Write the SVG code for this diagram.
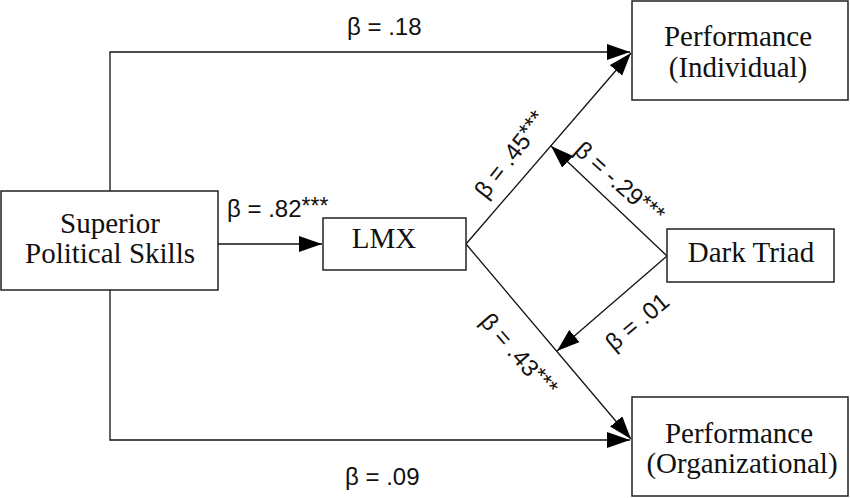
<svg xmlns="http://www.w3.org/2000/svg" width="850" height="498" viewBox="0 0 850 498">
<style>
.box{fill:#fff;stroke:#222;stroke-width:1.5}
.lbl{font-family:"Liberation Serif",serif;font-size:29px;fill:#111}
.beta{font-family:"Liberation Sans",Arial,sans-serif;font-size:24px;fill:#111}
.ast{font-size:23px}
.conn{fill:none;stroke:#111;stroke-width:1.3}
</style>
<defs>
<marker id="ah" markerUnits="userSpaceOnUse" markerWidth="26" markerHeight="18" refX="23" refY="8" orient="auto">
<path d="M0,0 L23,8 L0,16 Z" fill="#000"/>
</marker>
</defs>
<rect width="850" height="498" fill="#fff"/>
<g id="connectors">
<path class="conn" d="M110,191 V52 H630" marker-end="url(#ah)"/>
<path class="conn" d="M110,290 V440 H630" marker-end="url(#ah)"/>
<path class="conn" d="M218,244 H322" marker-end="url(#ah)"/>
<path class="conn" d="M466,244 L631,53" marker-end="url(#ah)"/>
<path class="conn" d="M466,244 L631,439" marker-end="url(#ah)"/>
<path class="conn" d="M667,256 L551,146" marker-end="url(#ah)"/>
<path class="conn" d="M667,256 L557,351" marker-end="url(#ah)"/>
</g>
<g id="labels">
<text class="beta" x="347" y="35">β = .18</text>
<text class="beta" x="345" y="485">β = .09</text>
<text class="beta" x="227" y="217">β = .82<tspan class="ast" dy="-3">***</tspan></text>
<text class="beta" transform="translate(486,200) rotate(-52)">β = .45<tspan class="ast" dy="-3">***</tspan></text>
<text class="beta" transform="translate(573,152) rotate(42)">β = -.29<tspan class="ast" dy="-3">***</tspan></text>
<text class="beta" transform="translate(614,352) rotate(-40)">β = .01</text>
<text class="beta" transform="translate(479,322) rotate(49)">β = .43<tspan class="ast" dy="-3">***</tspan></text>
</g>
<g id="node-superior">
<rect class="box" x="1" y="191" width="217" height="99"/>
<text class="lbl" x="110" y="233" text-anchor="middle">Superior</text>
<text class="lbl" x="110" y="263" text-anchor="middle">Political Skills</text>
</g>
<g id="node-lmx">
<rect class="box" x="323" y="218" width="143" height="52"/>
<text class="lbl" x="384" y="248" text-anchor="middle">LMX</text>
</g>
<g id="node-perf-ind">
<rect class="box" x="632" y="1" width="216" height="99"/>
<text class="lbl" x="738" y="46" text-anchor="middle">Performance</text>
<text class="lbl" x="738" y="77" text-anchor="middle">(Individual)</text>
</g>
<g id="node-perf-org">
<rect class="box" x="632" y="397" width="216" height="99"/>
<text class="lbl" x="739" y="443" text-anchor="middle">Performance</text>
<text class="lbl" x="742" y="473" text-anchor="middle">(Organizational)</text>
</g>
<g id="node-dark-triad">
<rect class="box" x="667" y="229" width="167" height="53"/>
<text class="lbl" x="751" y="262" text-anchor="middle">Dark Triad</text>
</g>
</svg>
